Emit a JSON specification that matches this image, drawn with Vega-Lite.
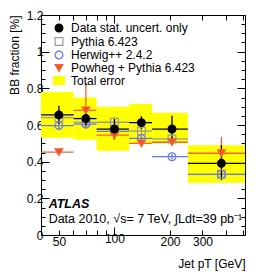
{
  "$schema": "https://vega.github.io/schema/vega-lite/v6.json",
  "width": 204,
  "height": 220,
  "autosize": {"type": "none"},
  "padding": {"left": 41, "top": 15, "right": 13, "bottom": 45},
  "datasets": {
    "tot": [
      {"series": "Total error", "lo": 40, "hi": 60, "tlo": 0.53, "thi": 0.78},
      {"series": "Total error", "lo": 60, "hi": 80, "tlo": 0.52, "thi": 0.75},
      {"series": "Total error", "lo": 80, "hi": 120, "tlo": 0.46, "thi": 0.70},
      {"series": "Total error", "lo": 120, "hi": 160, "tlo": 0.50, "thi": 0.715},
      {"series": "Total error", "lo": 160, "hi": 250, "tlo": 0.50, "thi": 0.667},
      {"series": "Total error", "lo": 250, "hi": 510, "tlo": 0.285, "thi": 0.49}
    ],
    "pts": [
      {"series": "Pythia 6.423", "xc": 50, "lo": 40, "hi": 60, "v": 0.64, "elo": 0.625, "ehi": 0.655},
      {"series": "Pythia 6.423", "xc": 70, "lo": 60, "hi": 80, "v": 0.615, "elo": 0.6, "ehi": 0.63},
      {"series": "Pythia 6.423", "xc": 100, "lo": 80, "hi": 120, "v": 0.615, "elo": 0.6, "ehi": 0.63},
      {"series": "Pythia 6.423", "xc": 140, "lo": 120, "hi": 160, "v": 0.567, "elo": 0.552, "ehi": 0.582},
      {"series": "Pythia 6.423", "xc": 205, "lo": 160, "hi": 250, "v": 0.524, "elo": 0.509, "ehi": 0.539},
      {"series": "Pythia 6.423", "xc": 380, "lo": 250, "hi": 510, "v": 0.331, "elo": 0.316, "ehi": 0.346},
      {"series": "Herwig++ 2.4.2", "xc": 50, "lo": 40, "hi": 60, "v": 0.597, "elo": 0.58, "ehi": 0.614},
      {"series": "Herwig++ 2.4.2", "xc": 70, "lo": 60, "hi": 80, "v": 0.605, "elo": 0.588, "ehi": 0.622},
      {"series": "Herwig++ 2.4.2", "xc": 100, "lo": 80, "hi": 120, "v": 0.565, "elo": 0.548, "ehi": 0.582},
      {"series": "Herwig++ 2.4.2", "xc": 140, "lo": 120, "hi": 160, "v": 0.527, "elo": 0.51, "ehi": 0.544},
      {"series": "Herwig++ 2.4.2", "xc": 205, "lo": 160, "hi": 250, "v": 0.427, "elo": 0.412, "ehi": 0.442},
      {"series": "Herwig++ 2.4.2", "xc": 380, "lo": 250, "hi": 510, "v": 0.331, "elo": 0.31, "ehi": 0.352},
      {"series": "Powheg + Pythia 6.423", "xc": 50, "lo": 40, "hi": 60, "v": 0.452, "elo": 0.44, "ehi": 0.464},
      {"series": "Powheg + Pythia 6.423", "xc": 70, "lo": 60, "hi": 80, "v": 0.68, "elo": 0.58, "ehi": 0.83},
      {"series": "Powheg + Pythia 6.423", "xc": 100, "lo": 80, "hi": 120, "v": 0.545, "elo": 0.53, "ehi": 0.56},
      {"series": "Powheg + Pythia 6.423", "xc": 140, "lo": 120, "hi": 160, "v": 0.5, "elo": 0.485, "ehi": 0.515},
      {"series": "Powheg + Pythia 6.423", "xc": 205, "lo": 160, "hi": 250, "v": 0.506, "elo": 0.49, "ehi": 0.522},
      {"series": "Powheg + Pythia 6.423", "xc": 380, "lo": 250, "hi": 510, "v": 0.446, "elo": 0.36, "ehi": 0.536},
      {"series": "Data stat. uncert. only", "xc": 50, "lo": 40, "hi": 60, "v": 0.655, "elo": 0.605, "ehi": 0.705},
      {"series": "Data stat. uncert. only", "xc": 70, "lo": 60, "hi": 80, "v": 0.635, "elo": 0.595, "ehi": 0.675},
      {"series": "Data stat. uncert. only", "xc": 100, "lo": 80, "hi": 120, "v": 0.578, "elo": 0.52, "ehi": 0.64},
      {"series": "Data stat. uncert. only", "xc": 140, "lo": 120, "hi": 160, "v": 0.613, "elo": 0.578, "ehi": 0.648},
      {"series": "Data stat. uncert. only", "xc": 205, "lo": 160, "hi": 250, "v": 0.578, "elo": 0.51, "ehi": 0.65},
      {"series": "Data stat. uncert. only", "xc": 380, "lo": 250, "hi": 510, "v": 0.391, "elo": 0.3, "ehi": 0.49}
    ],
    "ann1": [{"t": "ATLAS", "x": 44, "y": 0.17}],
    "ann2": [{"t": "Data 2010, √s= 7 TeV, ∫Ldt=39 pb⁻¹", "x": 44, "y": 0.087}]
  },
  "layer": [
    {
      "data": {"name": "tot"},
      "mark": {"type": "rect"},
      "encoding": {
        "x": {"field": "lo", "type": "quantitative",
          "scale": {"type": "log", "domain": [40, 510], "nice": false},
          "axis": {"orient": "bottom", "values": [40,50,60,70,80,90,100,200,300,400,500],
            "labelExpr": "(datum.value==50||datum.value==100||datum.value==200||datum.value==300) ? format(datum.value, 'd') : ''",
            "tickSize": {"condition": {"test": "datum.value==100", "value": -8}, "value": -5},
            "labelPadding": 6, "title": "Jet pT [GeV]", "titleAnchor": "end", "titlePadding": 11}},
        "x2": {"field": "hi"},
        "y": {"field": "tlo", "type": "quantitative",
          "scale": {"domain": [0, 1.2], "nice": false, "zero": false},
          "axis": {"orient": "left", "values": [0,0.05,0.1,0.15,0.2,0.25,0.3,0.35,0.4,0.45,0.5,0.55,0.6,0.65,0.7,0.75,0.8,0.85,0.9,0.95,1,1.05,1.1,1.15,1.2],
            "labelExpr": "abs(datum.value*5 - round(datum.value*5)) < 0.000001 ? format(datum.value, '') : ''",
            "tickSize": {"condition": {"test": "abs(datum.value*5 - round(datum.value*5)) < 0.000001", "value": -8}, "value": -4},
            "labelPadding": 6, "title": "BB fraction [%]", "titleAnchor": "end", "titlePadding": 5}},
        "y2": {"field": "thi"},
        "fill": {"field": "series", "type": "nominal",
          "scale": {"domain": ["Data stat. uncert. only", "Pythia 6.423", "Herwig++ 2.4.2", "Powheg + Pythia 6.423", "Total error"],
            "range": ["black", "transparent", "transparent", "#f5501e", "#ffff00"]},
          "legend": {"orient": "none", "legendX": 12, "legendY": 7, "title": null, "padding": 0, "rowPadding": -0.5, "labelOffset": 6}}
      }
    },
    {
      "data": {"name": "tot"},
      "mark": {"type": "rect", "opacity": 0},
      "encoding": {
        "x": {"field": "lo", "type": "quantitative",
          "axis": {"orient": "top", "values": [40,50,60,70,80,90,100,200,300,400,500], "labels": false, "title": null,
            "tickSize": {"condition": {"test": "datum.value==100", "value": -8}, "value": -5}}},
        "x2": {"field": "hi"},
        "y": {"field": "tlo", "type": "quantitative",
          "axis": {"orient": "right", "values": [0,0.05,0.1,0.15,0.2,0.25,0.3,0.35,0.4,0.45,0.5,0.55,0.6,0.65,0.7,0.75,0.8,0.85,0.9,0.95,1,1.05,1.1,1.15,1.2], "labels": false, "title": null,
            "tickSize": {"condition": {"test": "abs(datum.value*5 - round(datum.value*5)) < 0.000001", "value": -8}, "value": -4}}},
        "y2": {"field": "thi"}
      }
    },
    {
      "data": {"name": "pts"},
      "mark": {"type": "rule", "strokeWidth": 1.3},
      "encoding": {
        "x": {"field": "lo", "type": "quantitative", "axis": null},
        "x2": {"field": "hi"},
        "y": {"field": "v", "type": "quantitative", "axis": null},
        "stroke": {"field": "series", "type": "nominal",
          "scale": {"domain": ["Data stat. uncert. only", "Pythia 6.423", "Herwig++ 2.4.2", "Powheg + Pythia 6.423", "Total error"],
            "range": ["black", "#9a9a9a", "#6478ee", "#f0643c", "#ffff00"]}}
      }
    },
    {
      "data": {"name": "pts"},
      "mark": {"type": "rule", "strokeWidth": 1.3},
      "encoding": {
        "x": {"field": "xc", "type": "quantitative", "axis": null},
        "y": {"field": "elo", "type": "quantitative", "axis": null},
        "y2": {"field": "ehi"},
        "stroke": {"field": "series", "type": "nominal"}
      }
    },
    {
      "data": {"name": "pts"},
      "mark": {"type": "point", "strokeWidth": 1.2, "opacity": 1},
      "encoding": {
        "x": {"field": "xc", "type": "quantitative", "axis": null},
        "y": {"field": "v", "type": "quantitative", "axis": null},
        "stroke": {"field": "series", "type": "nominal"},
        "fill": {"field": "series", "type": "nominal"},
        "shape": {"field": "series", "type": "nominal",
          "scale": {"domain": ["Data stat. uncert. only", "Pythia 6.423", "Herwig++ 2.4.2", "Powheg + Pythia 6.423", "Total error"],
            "range": ["circle", "square", "circle", "triangle-down", "M-1.4,-1H1.4V1H-1.4Z"]}},
        "size": {"field": "series", "type": "nominal",
          "scale": {"domain": ["Data stat. uncert. only", "Pythia 6.423", "Herwig++ 2.4.2", "Powheg + Pythia 6.423", "Total error"],
            "range": [60, 60, 50, 60, 100]}}
      }
    },
    {
      "data": {"name": "ann1"},
      "mark": {"type": "text", "align": "left", "baseline": "middle", "font": "Liberation Sans", "fontSize": 12.5, "fontWeight": "bold", "fontStyle": "italic"},
      "encoding": {
        "x": {"field": "x", "type": "quantitative", "axis": null},
        "y": {"field": "y", "type": "quantitative", "axis": null},
        "text": {"field": "t"}
      }
    },
    {
      "data": {"name": "ann2"},
      "mark": {"type": "text", "align": "left", "baseline": "middle", "font": "Liberation Sans", "fontSize": 12.5},
      "encoding": {
        "x": {"field": "x", "type": "quantitative", "axis": null},
        "y": {"field": "y", "type": "quantitative", "axis": null},
        "text": {"field": "t"}
      }
    }
  ],
  "resolve": {"axis": {"x": "independent", "y": "independent"}},
  "config": {
    "view": {"stroke": "black", "strokeWidth": 1},
    "axis": {"grid": false, "domain": false, "tickColor": "black", "labelColor": "black", "titleColor": "black",
      "labelFont": "Liberation Sans", "labelFontSize": 12, "titleFont": "Liberation Sans", "titleFontSize": 12, "titleFontWeight": "normal",
      "labelFlush": false, "labelOverlap": false, "labelBound": false},
    "legend": {"labelFont": "Liberation Sans", "labelFontSize": 12, "labelColor": "black", "symbolStrokeWidth": 1.2}
  }
}
